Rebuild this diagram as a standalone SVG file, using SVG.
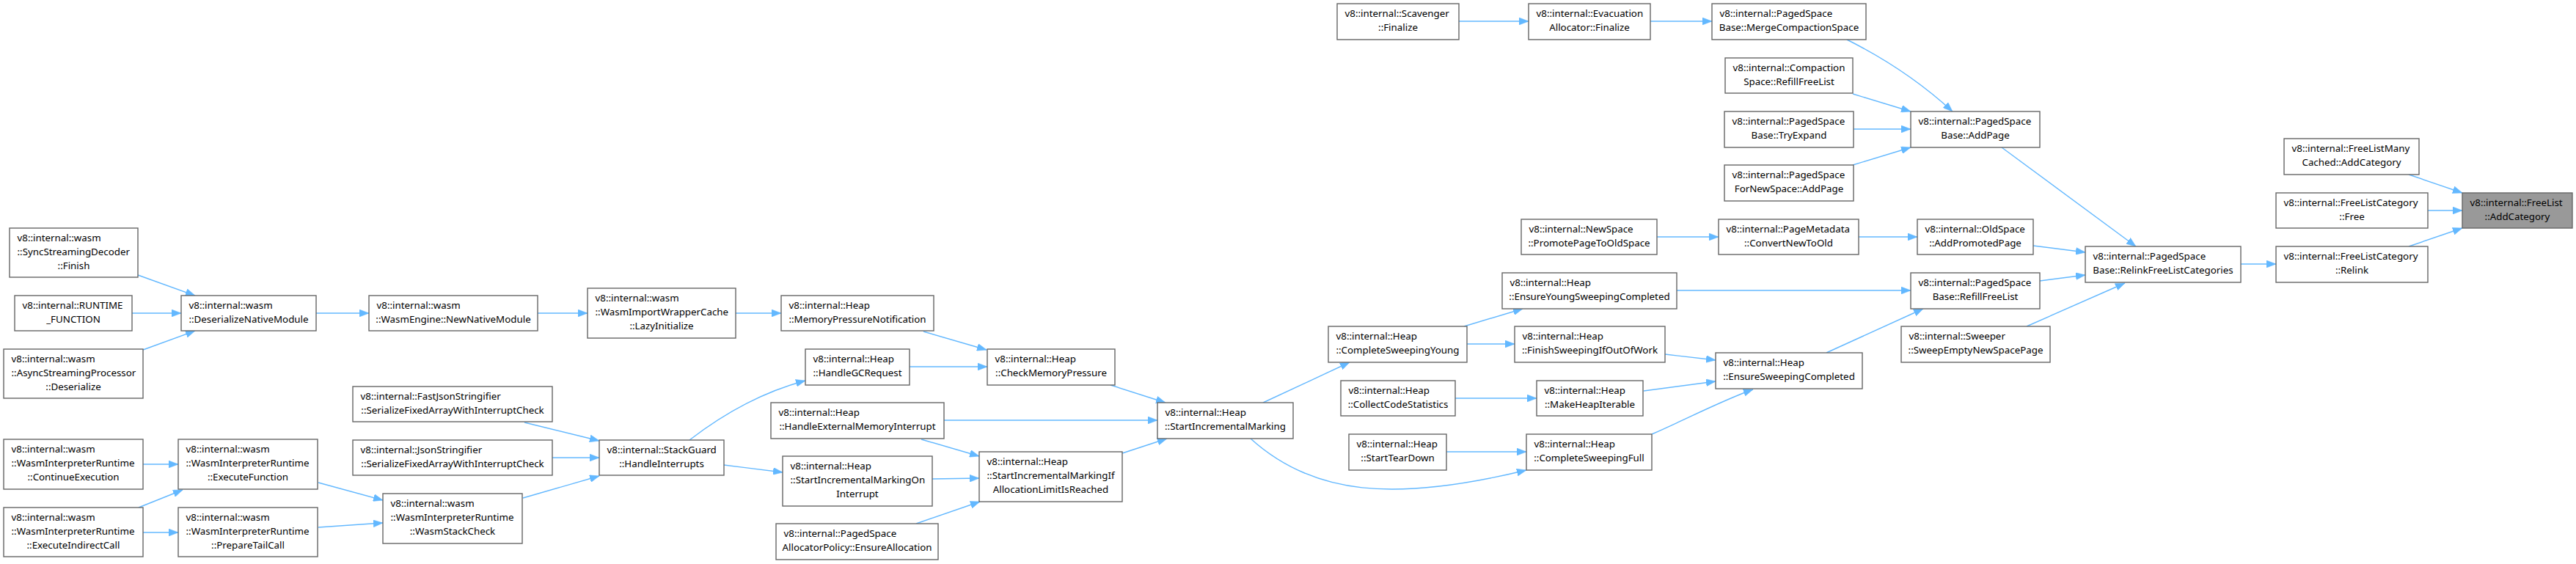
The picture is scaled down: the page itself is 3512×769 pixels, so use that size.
<svg xmlns="http://www.w3.org/2000/svg" width="3512" height="769" viewBox="0 0 3512 769">
<style>
.node rect{fill:#ffffff;stroke:#666666;stroke-width:1.4}
.node.hl rect{fill:#999999}
.node text{font-family:"Noto Sans","Open Sans","DejaVu Sans",sans-serif;font-size:13.33px;fill:#000000}
.node text.c{text-anchor:middle}
#edges path{fill:none;stroke:#63b8ff;stroke-width:1.4;marker-end:url(#ah)}
</style>
<defs>
<marker id="ah" viewBox="0 0 13 10" refX="13" refY="5" markerWidth="13" markerHeight="10" markerUnits="userSpaceOnUse" orient="auto">
<path d="M0,0 L13,5 L0,10 Z" fill="#63b8ff" stroke="#63b8ff" stroke-width="0.5"/>
</marker>
</defs>
<rect width="3512" height="769" fill="#ffffff"/>
<g id="edges">
<path d="M188,375 L266,403"/>
<path d="M180,427 L247,427"/>
<path d="M195,477 L266,451"/>
<path d="M431,427 L503,427"/>
<path d="M733,427 L801,427"/>
<path d="M1003,427 L1065,427"/>
<path d="M1259,452 L1345,477"/>
<path d="M1240,500 L1346,500"/>
<path d="M1514,525 L1589,549"/>
<path d="M1287,573 L1578,573"/>
<path d="M1256,599 L1335,622"/>
<path d="M1271,653 L1335,652"/>
<path d="M1249,714 L1336,684"/>
<path d="M1530,618 L1591,598"/>
<path d="M940,600 C975,573 1030,537 1098,519"/>
<path d="M987,634 L1067,644"/>
<path d="M715,576 L817,601"/>
<path d="M753,624 L817,624"/>
<path d="M713,679 L817,649"/>
<path d="M195,633 L243,633"/>
<path d="M189,692 L249,668"/>
<path d="M195,726 L243,726"/>
<path d="M434,658 L522,682"/>
<path d="M434,719 L522,713"/>
<path d="M1722,549 L1840,494"/>
<path d="M1705,598 C1790,675 1900,685 2081,641"/>
<path d="M1996,445 L2076,421"/>
<path d="M2000,469 L2065,469"/>
<path d="M2270,483 L2339,491"/>
<path d="M1984,543 L2095,543"/>
<path d="M2241,533 L2339,520"/>
<path d="M1972,616 L2081,616"/>
<path d="M2252,592 C2300,571 2350,545 2390,531"/>
<path d="M2286,396 L2605,396"/>
<path d="M2490,481 L2622,421"/>
<path d="M2259,323 L2343,323"/>
<path d="M2534,323 L2614,323"/>
<path d="M2772,335 L2843,344"/>
<path d="M2781,383 L2843,375"/>
<path d="M2763,445 L2897,386"/>
<path d="M2729,201 L2912,336"/>
<path d="M1989,29 L2084,29"/>
<path d="M2250,29 L2334,29"/>
<path d="M2518,54 Q2600,95 2662,152"/>
<path d="M2526,128 L2605,152"/>
<path d="M2527,176 L2605,176"/>
<path d="M2526,225 L2605,201"/>
<path d="M3055,360 L3103,360"/>
<path d="M3284,238 L3357,263"/>
<path d="M3310,287 L3357,287"/>
<path d="M3284,336 L3357,311"/>
</g>
<g id="n1" class="node"><rect x="13" y="311" width="175" height="67"/><text x="23.5" y="329.2">v8::internal::wasm</text><text x="23.5" y="347.9">::SyncStreamingDecoder</text><text class="c" x="100.5" y="366.6">::Finish</text></g>
<g id="n2" class="node"><rect x="20" y="403" width="160" height="48"/><text x="30.5" y="421.2">v8::internal::RUNTIME</text><text class="c" x="100" y="439.9">_FUNCTION</text></g>
<g id="n3" class="node"><rect x="5" y="476" width="190" height="67"/><text x="15.5" y="494.2">v8::internal::wasm</text><text x="15.5" y="512.9">::AsyncStreamingProcessor</text><text class="c" x="100" y="531.6">::Deserialize</text></g>
<g id="n4" class="node"><rect x="5" y="599" width="190" height="68"/><text x="15.5" y="617.2">v8::internal::wasm</text><text x="15.5" y="635.9">::WasmInterpreterRuntime</text><text class="c" x="100" y="654.6">::ContinueExecution</text></g>
<g id="n5" class="node"><rect x="5" y="692" width="190" height="67"/><text x="15.5" y="710.2">v8::internal::wasm</text><text x="15.5" y="728.9">::WasmInterpreterRuntime</text><text class="c" x="100" y="747.6">::ExecuteIndirectCall</text></g>
<g id="n6" class="node"><rect x="247" y="403" width="184" height="48"/><text x="257.5" y="421.2">v8::internal::wasm</text><text class="c" x="339" y="439.9">::DeserializeNativeModule</text></g>
<g id="n7" class="node"><rect x="243" y="599" width="190" height="68"/><text x="253.5" y="617.2">v8::internal::wasm</text><text x="253.5" y="635.9">::WasmInterpreterRuntime</text><text class="c" x="338" y="654.6">::ExecuteFunction</text></g>
<g id="n8" class="node"><rect x="243" y="692" width="190" height="67"/><text x="253.5" y="710.2">v8::internal::wasm</text><text x="253.5" y="728.9">::WasmInterpreterRuntime</text><text class="c" x="338" y="747.6">::PrepareTailCall</text></g>
<g id="n9" class="node"><rect x="503" y="403" width="230" height="48"/><text x="513.5" y="421.2">v8::internal::wasm</text><text class="c" x="618" y="439.9">::WasmEngine::NewNativeModule</text></g>
<g id="n10" class="node"><rect x="481" y="527" width="272" height="48"/><text x="491.5" y="545.2">v8::internal::FastJsonStringifier</text><text class="c" x="617" y="563.9">::SerializeFixedArrayWithInterruptCheck</text></g>
<g id="n11" class="node"><rect x="481" y="600" width="272" height="48"/><text x="491.5" y="618.2">v8::internal::JsonStringifier</text><text class="c" x="617" y="636.9">::SerializeFixedArrayWithInterruptCheck</text></g>
<g id="n12" class="node"><rect x="522" y="673" width="190" height="68"/><text x="532.5" y="691.2">v8::internal::wasm</text><text x="532.5" y="709.9">::WasmInterpreterRuntime</text><text class="c" x="617" y="728.6">::WasmStackCheck</text></g>
<g id="n13" class="node"><rect x="801" y="393" width="202" height="68"/><text x="811.5" y="411.2">v8::internal::wasm</text><text x="811.5" y="429.9">::WasmImportWrapperCache</text><text class="c" x="902" y="448.6">::LazyInitialize</text></g>
<g id="n14" class="node"><rect x="817" y="600" width="170" height="48"/><text x="827.5" y="618.2">v8::internal::StackGuard</text><text class="c" x="902" y="636.9">::HandleInterrupts</text></g>
<g id="n15" class="node"><rect x="1065" y="403" width="208" height="48"/><text x="1075.5" y="421.2">v8::internal::Heap</text><text class="c" x="1169" y="439.9">::MemoryPressureNotification</text></g>
<g id="n16" class="node"><rect x="1098" y="476" width="142" height="49"/><text x="1108.5" y="494.2">v8::internal::Heap</text><text class="c" x="1169" y="512.9">::HandleGCRequest</text></g>
<g id="n17" class="node"><rect x="1051" y="549" width="236" height="49"/><text x="1061.5" y="567.2">v8::internal::Heap</text><text class="c" x="1169" y="585.9">::HandleExternalMemoryInterrupt</text></g>
<g id="n18" class="node"><rect x="1067" y="622" width="204" height="68"/><text x="1077.5" y="640.2">v8::internal::Heap</text><text x="1077.5" y="658.9">::StartIncrementalMarkingOn</text><text class="c" x="1169" y="677.6">Interrupt</text></g>
<g id="n19" class="node"><rect x="1058" y="714" width="221" height="49"/><text x="1068.5" y="732.2">v8::internal::PagedSpace</text><text class="c" x="1168.5" y="750.9">AllocatorPolicy::EnsureAllocation</text></g>
<g id="n20" class="node"><rect x="1346" y="476" width="174" height="49"/><text x="1356.5" y="494.2">v8::internal::Heap</text><text class="c" x="1433" y="512.9">::CheckMemoryPressure</text></g>
<g id="n21" class="node"><rect x="1335" y="616" width="195" height="68"/><text x="1345.5" y="634.2">v8::internal::Heap</text><text x="1345.5" y="652.9">::StartIncrementalMarkingIf</text><text class="c" x="1432.5" y="671.6">AllocationLimitIsReached</text></g>
<g id="n22" class="node"><rect x="1578" y="549" width="185" height="49"/><text x="1588.5" y="567.2">v8::internal::Heap</text><text class="c" x="1670.5" y="585.9">::StartIncrementalMarking</text></g>
<g id="n23" class="node"><rect x="1811" y="445" width="189" height="49"/><text x="1821.5" y="463.2">v8::internal::Heap</text><text class="c" x="1905.5" y="481.9">::CompleteSweepingYoung</text></g>
<g id="n24" class="node"><rect x="1828" y="519" width="156" height="48"/><text x="1838.5" y="537.2">v8::internal::Heap</text><text class="c" x="1906" y="555.9">::CollectCodeStatistics</text></g>
<g id="n25" class="node"><rect x="1839" y="592" width="133" height="49"/><text x="1849.5" y="610.2">v8::internal::Heap</text><text class="c" x="1905.5" y="628.9">::StartTearDown</text></g>
<g id="n26" class="node"><rect x="1823" y="5" width="166" height="49"/><text x="1833.5" y="23.2">v8::internal::Scavenger</text><text class="c" x="1906" y="41.9">::Finalize</text></g>
<g id="n27" class="node"><rect x="2084" y="5" width="166" height="49"/><text x="2094.5" y="23.2">v8::internal::Evacuation</text><text class="c" x="2167" y="41.9">Allocator::Finalize</text></g>
<g id="n28" class="node"><rect x="2074" y="299" width="185" height="48"/><text x="2084.5" y="317.2">v8::internal::NewSpace</text><text class="c" x="2166.5" y="335.9">::PromotePageToOldSpace</text></g>
<g id="n29" class="node"><rect x="2048" y="372" width="238" height="49"/><text x="2058.5" y="390.2">v8::internal::Heap</text><text class="c" x="2167" y="408.9">::EnsureYoungSweepingCompleted</text></g>
<g id="n30" class="node"><rect x="2065" y="445" width="205" height="49"/><text x="2075.5" y="463.2">v8::internal::Heap</text><text class="c" x="2167.5" y="481.9">::FinishSweepingIfOutOfWork</text></g>
<g id="n31" class="node"><rect x="2095" y="519" width="145" height="48"/><text x="2105.5" y="537.2">v8::internal::Heap</text><text class="c" x="2167.5" y="555.9">::MakeHeapIterable</text></g>
<g id="n32" class="node"><rect x="2081" y="592" width="171" height="49"/><text x="2091.5" y="610.2">v8::internal::Heap</text><text class="c" x="2166.5" y="628.9">::CompleteSweepingFull</text></g>
<g id="n33" class="node"><rect x="2334" y="5" width="210" height="49"/><text x="2344.5" y="23.2">v8::internal::PagedSpace</text><text class="c" x="2439" y="41.9">Base::MergeCompactionSpace</text></g>
<g id="n34" class="node"><rect x="2352" y="79" width="174" height="48"/><text x="2362.5" y="97.2">v8::internal::Compaction</text><text class="c" x="2439" y="115.9">Space::RefillFreeList</text></g>
<g id="n35" class="node"><rect x="2351" y="152" width="176" height="49"/><text x="2361.5" y="170.2">v8::internal::PagedSpace</text><text class="c" x="2439" y="188.9">Base::TryExpand</text></g>
<g id="n36" class="node"><rect x="2351" y="225" width="176" height="49"/><text x="2361.5" y="243.2">v8::internal::PagedSpace</text><text class="c" x="2439" y="261.9">ForNewSpace::AddPage</text></g>
<g id="n37" class="node"><rect x="2343" y="299" width="191" height="48"/><text x="2353.5" y="317.2">v8::internal::PageMetadata</text><text class="c" x="2438.5" y="335.9">::ConvertNewToOld</text></g>
<g id="n38" class="node"><rect x="2339" y="481" width="200" height="49"/><text x="2349.5" y="499.2">v8::internal::Heap</text><text class="c" x="2439" y="517.9">::EnsureSweepingCompleted</text></g>
<g id="n39" class="node"><rect x="2605" y="152" width="176" height="49"/><text x="2615.5" y="170.2">v8::internal::PagedSpace</text><text class="c" x="2693" y="188.9">Base::AddPage</text></g>
<g id="n40" class="node"><rect x="2614" y="299" width="158" height="48"/><text x="2624.5" y="317.2">v8::internal::OldSpace</text><text class="c" x="2693" y="335.9">::AddPromotedPage</text></g>
<g id="n41" class="node"><rect x="2605" y="372" width="176" height="49"/><text x="2615.5" y="390.2">v8::internal::PagedSpace</text><text class="c" x="2693" y="408.9">Base::RefillFreeList</text></g>
<g id="n42" class="node"><rect x="2592" y="445" width="203" height="49"/><text x="2602.5" y="463.2">v8::internal::Sweeper</text><text class="c" x="2693.5" y="481.9">::SweepEmptyNewSpacePage</text></g>
<g id="n43" class="node"><rect x="2843" y="336" width="212" height="49"/><text x="2853.5" y="354.2">v8::internal::PagedSpace</text><text class="c" x="2949" y="372.9">Base::RelinkFreeListCategories</text></g>
<g id="n44" class="node"><rect x="3114" y="189" width="184" height="49"/><text x="3124.5" y="207.2">v8::internal::FreeListMany</text><text class="c" x="3206" y="225.9">Cached::AddCategory</text></g>
<g id="n45" class="node"><rect x="3103" y="263" width="207" height="48"/><text x="3113.5" y="281.2">v8::internal::FreeListCategory</text><text class="c" x="3206.5" y="299.9">::Free</text></g>
<g id="n46" class="node"><rect x="3103" y="336" width="207" height="49"/><text x="3113.5" y="354.2">v8::internal::FreeListCategory</text><text class="c" x="3206.5" y="372.9">::Relink</text></g>
<g id="n47" class="node hl"><rect x="3357" y="263" width="150" height="48"/><text x="3367.5" y="281.2">v8::internal::FreeList</text><text class="c" x="3432" y="299.9">::AddCategory</text></g>
</svg>
